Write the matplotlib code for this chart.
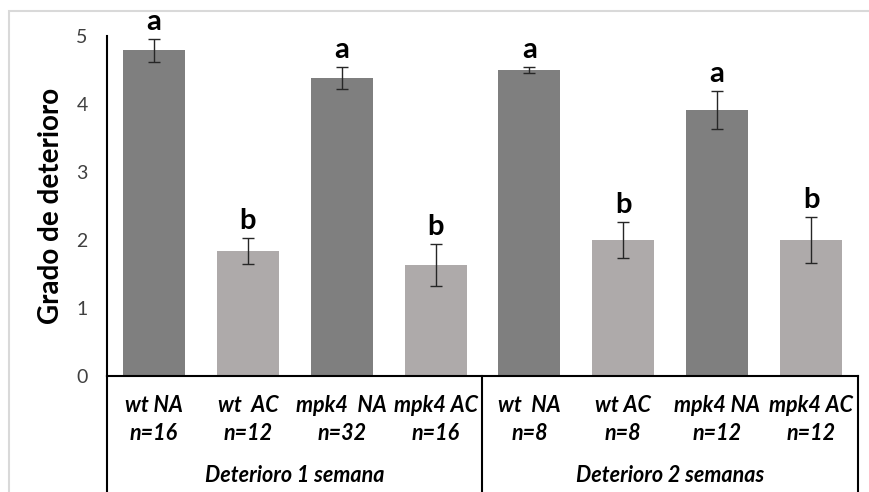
import matplotlib
matplotlib.use("Agg")
import matplotlib.pyplot as plt
from matplotlib.patches import Rectangle
import matplotlib.transforms as mtransforms

plt.rcParams['font.family'] = ['Lato', 'DejaVu Sans']

labels_top = ["wt NA", "wt  AC", "mpk4  NA", "mpk4 AC", "wt  NA", "wt AC", "mpk4 NA", "mpk4 AC"]
labels_n = ["n=16", "n=12", "n=32", "n=16", "n=8", "n=8", "n=12", "n=12"]
groups = ["Deterioro 1 semana", "Deterioro 2 semanas"]
values = [4.79, 1.84, 4.38, 1.63, 4.50, 2.00, 3.91, 2.00]
errors = [0.17, 0.19, 0.16, 0.31, 0.04, 0.26, 0.28, 0.34]
letters = ["a", "b", "a", "b", "a", "b", "a", "b"]
yticks = [0, 1, 2, 3, 4, 5]

dark = "#7f7f7f"
light = "#aeaaaa"
colors = [dark, light] * 4

W, H = 869, 492
fig = plt.figure(figsize=(W / 100, H / 100), dpi=100)
left, right, top, bottom = 107, 858, 36, 376
ax = fig.add_axes([left / W, 1 - bottom / H, (right - left) / W, (bottom - top) / H])

x = list(range(len(values)))
ax.bar(x, values, width=0.66, color=colors, zorder=2)
ax.errorbar(x, values, yerr=errors, fmt="none", ecolor="#262626", elinewidth=1.0,
            capsize=4, capthick=1.0, zorder=3)
for xi, v, e, l in zip(x, values, errors, letters):
    ax.annotate(l, (xi, v + e), xytext=(0, 3), textcoords="offset points",
                ha="center", va="bottom", fontsize=21, fontweight="bold", color="black")

ax.set_xlim(-0.5, len(values) - 0.5)
ax.set_ylim(0, 5)
ax.set_yticks(yticks)
ax.set_yticklabels([str(t) for t in yticks], fontsize=14, color="#404040")
ax.tick_params(axis="y", length=0, pad=14)
ax.set_xticks([])
for s in ["top", "right"]:
    ax.spines[s].set_visible(False)
ax.spines["left"].set_color("black")
ax.spines["left"].set_linewidth(1.5)
ax.spines["bottom"].set_color("black")
ax.spines["bottom"].set_linewidth(1.5)
ax.set_ylabel("Grado de deterioro", fontsize=20, fontweight="bold")
ax.yaxis.set_label_coords(-(left - 64) / (right - left), 0.5 - (206 - (top + bottom) / 2) / (bottom - top))

trans = mtransforms.blended_transform_factory(ax.transData, ax.transAxes)
ph = bottom - top
def yf(py):
    return -(py - bottom) / ph

for xv in [-0.5, 3.5, 7.5]:
    ax.plot([xv, xv], [0, yf(492)], transform=trans, color="black", lw=1.5, clip_on=False)

for xi, lt, ln in zip(x, labels_top, labels_n):
    ax.text(xi, yf(405), lt, transform=trans, ha="center", va="center",
            fontsize=15.5, fontweight="bold", fontstyle="italic")
    ax.text(xi, yf(433), ln, transform=trans, ha="center", va="center",
            fontsize=15.5, fontweight="bold", fontstyle="italic")
for gi, g in enumerate(groups):
    ax.text(1.5 + 4 * gi, yf(476), g, transform=trans, ha="center", va="center",
            fontsize=15.5, fontweight="bold", fontstyle="italic")

fig.add_artist(Rectangle((9 / W, -0.1), 1.0, 1 - 11 / H + 0.1, transform=fig.transFigure,
                         fill=False, edgecolor="#d9d9d9", lw=1.5))

fig.savefig("out.png", dpi=100)
